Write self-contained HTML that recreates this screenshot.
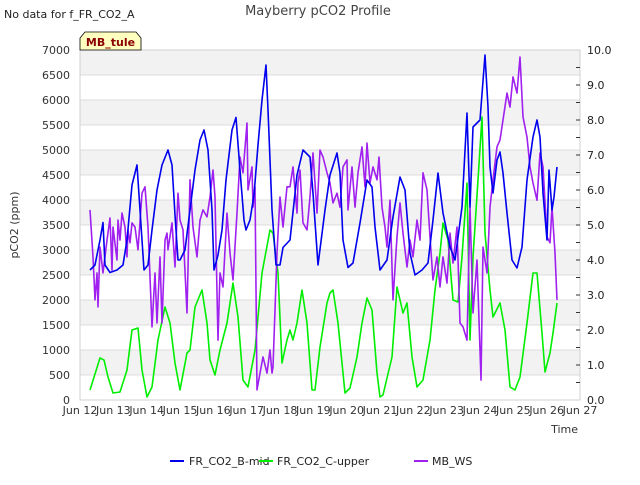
<!DOCTYPE html>
<html><head><meta charset="utf-8"><style>
body{margin:0;background:#fff;font-family:"Liberation Sans","DejaVu Sans",sans-serif}
svg text{font-family:"DejaVu Sans","Liberation Sans",sans-serif}
</style></head><body>
<svg id="c" width="640" height="480" xmlns="http://www.w3.org/2000/svg">
<g id="grid"></g><g id="axes"></g><g id="series"></g>
<text x="4" y="18" font-size="11" fill="#222">No data for f_FR_CO2_A</text>
<text x="318" y="15" font-size="13" fill="#444" text-anchor="middle">Mayberry pCO2 Profile</text>
<text transform="translate(18,225) rotate(-90)" font-size="11" fill="#333" text-anchor="middle">pCO2 (ppm)</text>
<text x="578" y="433" font-size="11" fill="#333" text-anchor="end">Time</text>
<g>
<path d="M80,50 L80,38 L85,32 L136,32 L141,38 L141,50 Z" fill="#ffffc0" stroke="#000" stroke-width="0.8"/>
<text x="110.5" y="46" font-size="11" font-weight="bold" fill="#8b0000" text-anchor="middle">MB_tule</text>
</g>
<g>
<g><line x1="170" y1="461" x2="184" y2="461" stroke="#0000ee" stroke-width="2"/><text x="189" y="465" font-size="11" fill="#222">FR_CO2_B-mid</text></g>
<g><line x1="259" y1="461" x2="273" y2="461" stroke="#00ee00" stroke-width="2"/><text x="277" y="465" font-size="11" fill="#222">FR_CO2_C-upper</text></g>
<g><line x1="414" y1="461" x2="428" y2="461" stroke="#a020f0" stroke-width="2"/><text x="432" y="465" font-size="11" fill="#222">MB_WS</text></g>
</g>
</svg>
<script>
const xTickLabels=["Jun 12","Jun 13","Jun 14","Jun 15","Jun 16","Jun 17","Jun 18","Jun 19","Jun 20","Jun 21","Jun 22","Jun 23","Jun 24","Jun 25","Jun 26","Jun 27"];
const leftTicks=[0,500,1000,1500,2000,2500,3000,3500,4000,4500,5000,5500,6000,6500,7000];
const rightTicks=[0,1,2,3,4,5,6,7,8,9,10];
const bT=[0.30,0.45,0.60,0.69,0.75,0.90,1.11,1.29,1.41,1.56,1.71,1.80,1.92,2.04,2.16,2.31,2.46,2.64,2.76,2.85,2.94,3.00,3.15,3.30,3.45,3.60,3.72,3.84,3.96,4.02,4.14,4.26,4.38,4.56,4.68,4.80,4.92,4.98,5.10,5.22,5.34,5.46,5.58,5.64,5.76,5.88,6.00,6.09,6.30,6.51,6.69,6.90,6.99,7.14,7.35,7.50,7.71,7.80,7.89,8.04,8.19,8.40,8.61,8.76,8.85,9.00,9.21,9.39,9.60,9.75,9.90,10.05,10.26,10.44,10.59,10.74,10.89,11.10,11.25,11.46,11.61,11.70,11.79,12.00,12.15,12.24,12.30,12.39,12.51,12.60,12.69,12.81,12.96,13.11,13.26,13.41,13.59,13.71,13.80,13.89,14.01,14.07,14.16,14.22,14.31];
const bV=[2600,2700,3200,3550,2700,2550,2600,2700,3200,4300,4700,3800,2600,2700,3400,4200,4700,5000,4700,3700,2800,2800,3000,3800,4600,5200,5400,5000,3800,2600,2900,3400,4400,5400,5650,4600,3600,3400,3600,4100,5100,6000,6700,5800,3800,2700,2700,3050,3200,4500,5000,4860,4140,2700,3800,4500,4940,4540,3200,2650,2740,3540,4400,4260,3460,2600,2800,3660,4460,4200,2940,2500,2600,2740,3600,4540,3740,3060,2800,3860,5740,3860,5460,5600,6900,5860,4660,4140,4800,4960,4540,3740,2800,2640,3060,4400,5260,5600,5260,4140,3200,4600,3800,4060,4660];
const gT=[0.30,0.60,0.72,0.84,0.99,1.20,1.41,1.56,1.74,1.86,2.01,2.16,2.34,2.55,2.70,2.85,3.00,3.21,3.30,3.45,3.66,3.81,3.90,4.05,4.20,4.41,4.59,4.74,4.89,5.04,5.25,5.46,5.70,5.79,5.94,6.06,6.21,6.30,6.39,6.51,6.66,6.81,6.96,7.05,7.20,7.41,7.50,7.59,7.74,7.95,8.10,8.31,8.46,8.61,8.76,8.91,9.00,9.09,9.36,9.51,9.69,9.81,9.96,10.11,10.29,10.50,10.65,10.80,10.89,11.04,11.19,11.34,11.46,11.61,11.70,11.79,11.94,12.06,12.15,12.30,12.39,12.60,12.75,12.90,13.05,13.20,13.41,13.59,13.71,13.86,13.95,14.10,14.19,14.31];
const gV=[200,840,800,460,140,160,600,1400,1440,600,60,260,1200,1860,1540,740,200,940,1000,1860,2200,1540,800,500,1000,1540,2340,1660,400,260,1000,2540,3400,3340,2540,740,1200,1400,1200,1540,2200,1540,200,200,1060,1940,2140,2200,1540,140,240,860,1540,2040,1800,540,60,100,860,2260,1740,1940,860,260,400,1200,2200,2940,3540,3200,2000,1960,2860,4340,1200,2860,4400,5660,3340,2200,1660,1940,1400,260,200,460,1540,2540,2540,1340,560,940,1340,1940];
const wT=[0.30,0.39,0.45,0.51,0.54,0.60,0.69,0.81,0.90,0.96,0.99,1.11,1.14,1.20,1.26,1.35,1.41,1.44,1.50,1.56,1.65,1.74,1.86,1.95,2.04,2.16,2.25,2.31,2.40,2.46,2.55,2.61,2.64,2.76,2.85,2.94,3.00,3.09,3.21,3.30,3.39,3.51,3.60,3.69,3.81,3.90,3.99,4.05,4.14,4.20,4.29,4.41,4.50,4.59,4.71,4.80,4.89,5.01,5.04,5.16,5.19,5.25,5.31,5.40,5.49,5.61,5.70,5.76,5.79,5.91,6.00,6.09,6.21,6.30,6.39,6.51,6.54,6.60,6.69,6.81,6.90,6.99,7.11,7.20,7.29,7.41,7.50,7.59,7.71,7.80,7.89,8.01,8.04,8.16,8.25,8.34,8.46,8.55,8.61,8.70,8.79,8.91,8.97,9.06,9.15,9.21,9.30,9.39,9.51,9.60,9.69,9.81,9.90,9.99,10.11,10.20,10.29,10.41,10.50,10.59,10.71,10.80,10.89,11.01,11.10,11.19,11.31,11.40,11.49,11.61,11.70,11.79,11.91,12.03,12.09,12.21,12.30,12.39,12.51,12.60,12.69,12.81,12.90,12.99,13.11,13.20,13.29,13.41,13.50,13.59,13.71,13.80,13.89,14.01,14.10,14.16,14.25,14.31];
const wV=[5.43,4.09,2.86,3.63,2.66,4.37,3.63,4.57,5.2,3.71,4.94,4.0,5.14,4.57,5.34,4.94,4.09,4.86,4.49,5.06,4.94,4.29,5.91,6.09,4.94,2.09,3.63,2.2,4.09,2.2,4.57,4.77,4.29,5.06,3.8,5.91,5.14,4.86,2.49,6.29,4.94,4.09,5.14,5.43,5.23,5.8,6.57,5.8,1.71,3.63,3.23,5.34,4.2,3.43,5.34,6.94,6.49,7.91,6.0,6.66,5.51,6.09,0.29,0.77,1.23,0.77,1.43,0.77,0.94,4.2,5.8,4.94,6.09,6.09,6.66,5.34,6.2,6.57,5.06,4.86,5.8,7.06,5.34,7.14,6.94,6.49,6.2,5.63,5.91,5.51,6.66,6.86,5.43,6.66,5.51,6.49,7.23,6.09,7.34,6.2,6.66,6.29,6.94,5.51,4.94,4.37,5.71,2.86,4.66,5.63,4.77,3.8,4.57,4.09,5.14,4.57,6.49,6.0,4.66,3.43,4.09,3.23,4.09,3.34,4.77,3.91,4.94,2.2,2.09,1.71,5.51,2.49,4.0,0.57,4.37,3.63,5.51,6.29,7.23,7.43,8.0,8.77,8.37,9.23,8.77,9.8,8.09,7.51,6.66,6.2,5.71,7.06,6.66,4.66,4.49,5.51,4.2,2.86];

const NS="http://www.w3.org/2000/svg";
const L=80,R=580,T=50,B=400;
const xS=d=>L+(R-L)*d/15;
const yL=v=>B-(B-T)*v/7000;
const yR=v=>B-(B-T)*v/10;
function mk(tag,attrs,parent){const e=document.createElementNS(NS,tag);for(const k in attrs)e.setAttribute(k,attrs[k]);parent.appendChild(e);return e;}
const grid=document.getElementById('grid'),axes=document.getElementById('axes'),ser=document.getElementById('series');
for(let i=0;i<leftTicks.length-1;i++){
  if(i%2===1){const r=mk('rect',{x:L,y:yL(leftTicks[i+1]),width:R-L,height:yL(leftTicks[i])-yL(leftTicks[i+1]),fill:'#f2f2f2'},grid);
  
  }
}
leftTicks.forEach(v=>{
  const l=mk('line',{x1:L,x2:R,y1:yL(v),y2:yL(v),stroke:'#dcdcdc','stroke-width':1},grid);
  
  
  const t=mk('text',{x:L-10,y:yL(v)+4,'font-size':11,fill:'#333','text-anchor':'end'},axes);
  t.textContent=v;
  
  
});
const fr=mk('rect',{x:L,y:T,width:R-L,height:B-T,fill:'none',stroke:'#d0d0d0'},axes);


for(let v=0.5;v<10;v+=0.5){
  const tk=mk('line',{x1:R-4,x2:R,y1:yR(v),y2:yR(v),stroke:'#333'},axes);
  
  
}
rightTicks.forEach(v=>{
  const t=mk('text',{x:R+7,y:yR(v)+4,'font-size':11,fill:'#222'},axes);
  t.textContent=v.toFixed(1);
  
  
});
xTickLabels.forEach((s,i)=>{
  const t=mk('text',{x:xS(i),y:414,'font-size':11,fill:'#333','text-anchor':'middle'},axes);
  t.textContent=s;
  
  
});
function line(ts,vs,ys,color,name){
  const d=ts.map((t,i)=>(i?'L':'M')+xS(t).toFixed(1)+','+ys(vs[i]).toFixed(1)).join(' ');
  const p=mk('path',{d:d,fill:'none',stroke:color,'stroke-width':1.6,'stroke-linejoin':'round'},ser);
  
  
}
line(gT,gV,yL,'#00ee00','series-fr-co2-c-upper');
line(wT,wV,yR,'#a020f0','series-mb-ws');
line(bT,bV,yL,'#0000ee','series-fr-co2-b-mid');
</script>
</body></html>
